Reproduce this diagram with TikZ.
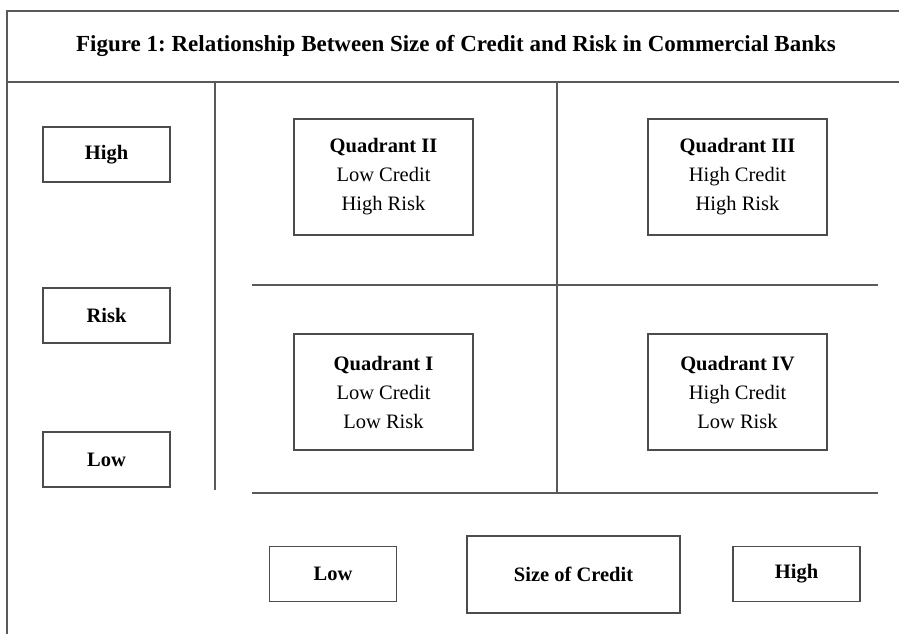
\documentclass[tikz,border=0pt]{standalone}
\usepackage{fontspec}
\setmainfont{Liberation Serif}

\begin{document}
\frenchspacing
\begin{tikzpicture}[x=1pt,y=-1pt,
    rule/.style={draw=black!65,line width=1.3pt},
    labbox/.style={draw=black!70,line width=1.3pt,minimum width=127pt,minimum height=55pt,
        font=\fontsize{20.5}{29}\selectfont\bfseries},
    quadbox/.style={draw=black!70,line width=1.3pt,minimum width=179pt,minimum height=116pt,
        align=center,font=\fontsize{20.5}{29}\selectfont}]
    \useasboundingbox [fill=white] (0,0) rectangle (899,634);

    \draw [rule] (899,11) -- (7,11) -- (7,634);
    \draw [rule] (7,82) -- (899,82);
    \node (title) at (456,46) {\fontsize{23}{27}\selectfont\bfseries Figure 1: Relationship Between Size of Credit and Risk in Commercial Banks};

    \draw [rule] (215,82) -- (215,490);
    \draw [rule] (557,82) -- (557,493);
    \draw [rule] (252,285) -- (878,285);
    \draw [rule] (252,493) -- (878,493);

    \node [labbox] (riskhigh) at (106.5,154.5) {High};
    \node [labbox] (risk) at (106.5,315.5) {Risk};
    \node [labbox] (risklow) at (106.5,459.5) {Low};

    \node [quadbox] (quadII) at (383.5,177) {\textbf{Quadrant II}\\Low Credit\\High Risk};
    \node [quadbox] (quadIII) at (737.5,177) {\textbf{Quadrant III}\\High Credit\\High Risk};
    \node [quadbox] (quadI) at (383.5,392) {\textbf{Quadrant I}\\Low Credit\\Low Risk};
    \node [quadbox] (quadIV) at (737.5,392) {\textbf{Quadrant IV}\\High Credit\\Low Risk};

    \node [labbox] (creditlow) at (333,574) {Low};
    \node [labbox,minimum width=213pt,minimum height=77pt] (credit) at (573.5,574.5) {Size of Credit};
    \node [labbox] (credithigh) at (796.5,574) {High};
\end{tikzpicture}
\end{document}
